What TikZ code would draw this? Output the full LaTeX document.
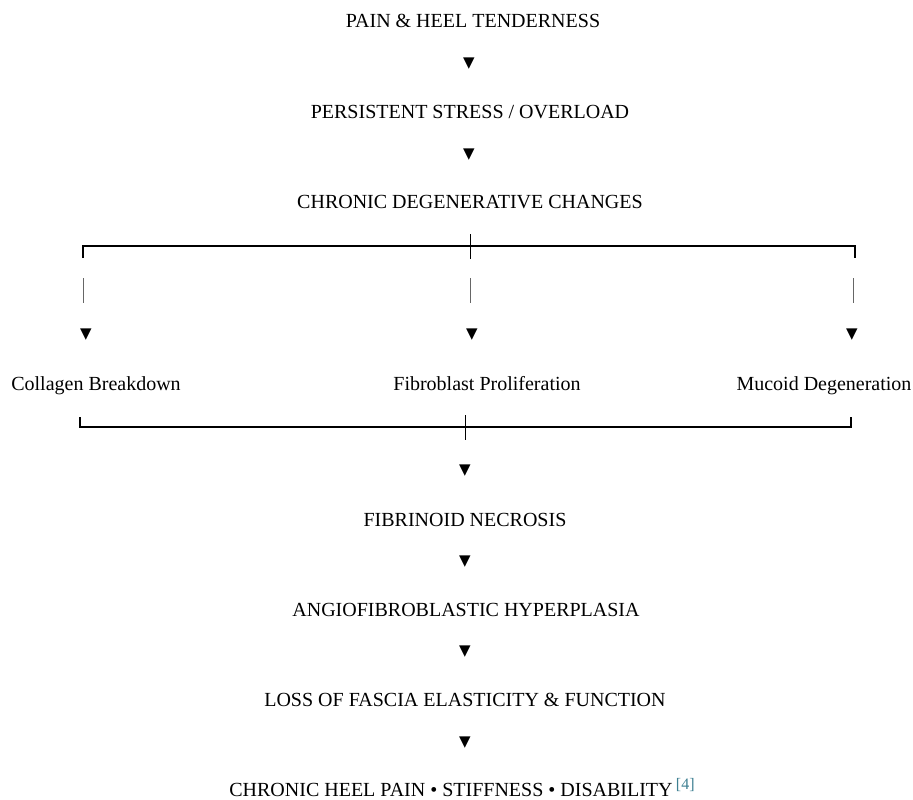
\documentclass[tikz,border=0pt]{standalone}
\usepackage{fontspec}
\setmainfont{Liberation Serif}
\newfontfamily\dejavu{DejaVu Sans}
\usepackage{xcolor}
\usetikzlibrary{positioning,calc}
\definecolor{refteal}{RGB}{62,128,146}

\begin{document}
\begin{tikzpicture}[x=1pt,y=-1pt,font=\fontsize{20}{24}\selectfont,
        lbl/.style={text height=14pt,text depth=4pt},
        tri/.style={font=\dejavu\fontsize{15}{15}\selectfont,inner sep=0pt},
        bar/.style={line width=1.3pt},
        tick/.style={line width=1pt}]
        \useasboundingbox (0,0) rectangle (913,800);
        % main chain, top part
        \node[lbl] (pain) at (473,23) {PAIN \& HEEL TENDERNESS};
        \node[tri] (t1) at (469,64) {▼};
        \node[lbl] (stress) at (470,113) {PERSISTENT STRESS / OVERLOAD};
        \node[tri] (t2) at (469,155) {▼};
        \node[lbl] (chronic) at (470,203) {CHRONIC DEGENERATIVE CHANGES};
        % upper bracket
        \coordinate (ul) at (83,246);
        \coordinate (ur) at (855,246);
        \coordinate (uc) at (470,246);
        \draw[bar] ($(ul)+(0,12)$) -- (ul) -- (ur) -- ($(ur)+(0,12)$);
        \draw[tick] ($(uc)+(0,-12)$) -- ($(uc)+(0,13)$);
        % three branches
        \foreach \x/\name in {83/l,470/c,853/r}{
            \coordinate (d\name a) at (\x,278);
            \coordinate (d\name b) at (\x,303);
            \draw[tick,gray!80!black] (d\name a) -- (d\name b);
        }
        \node[tri] (tl) at (86,335) {▼};
        \node[tri] (tc) at (472,335) {▼};
        \node[tri] (tr) at (852,335) {▼};
        \node[lbl] (collagen) at (96,385) {Collagen Breakdown};
        \node[lbl] (fibro) at (487,385) {Fibroblast Proliferation};
        \node[lbl] (mucoid) at (824,385) {Mucoid Degeneration};
        % lower bracket
        \coordinate (ll) at (80,427);
        \coordinate (lr) at (851,427);
        \coordinate (lc) at (465,427);
        \draw[bar] ($(ll)+(0,-10)$) -- (ll) -- (lr) -- ($(lr)+(0,-10)$);
        \draw[tick] ($(lc)+(0,-12)$) -- ($(lc)+(0,13)$);
        % main chain, bottom part
        \node[tri] (t3) at (465,471) {▼};
        \node[lbl] (necrosis) at (465,521) {FIBRINOID NECROSIS};
        \node[tri] (t4) at (465,562) {▼};
        \node[lbl] (hyper) at (466,611) {ANGIOFIBROBLASTIC HYPERPLASIA};
        \node[tri] (t5) at (465,652) {▼};
        \node[lbl] (loss) at (465,701) {LOSS OF FASCIA ELASTICITY \& FUNCTION};
        \node[tri] (t6) at (465,743) {▼};
        \node[lbl] (result) at (462,791) {CHRONIC HEEL PAIN • STIFFNESS • DISABILITY\,\raisebox{7pt}{\fontsize{16}{16}\selectfont\textcolor{refteal}{[4]}}};
\end{tikzpicture}
\end{document}
